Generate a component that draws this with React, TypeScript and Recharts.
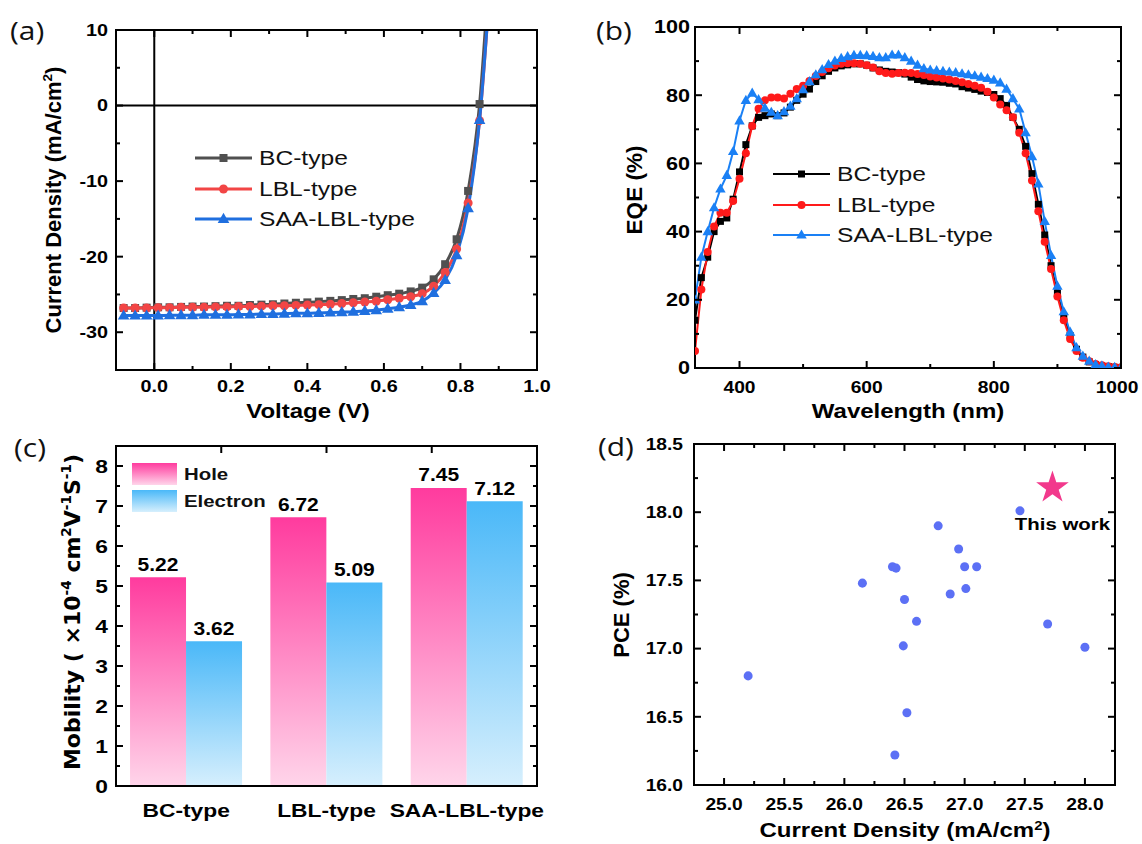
import React from "react";
import {
  LineChart, Line, BarChart, Bar, ScatterChart, Scatter, XAxis, YAxis, Symbols,
  ReferenceLine, LabelList, Legend,
} from "recharts";

const AR = '"Liberation Sans", Arial, sans-serif';
const DV = '"DejaVu Sans", Verdana, sans-serif';
const SX = 1.2; // the source figure is stretched horizontally

// ---------- (a) J-V curves ----------
const voltage = [-0.08, -0.05, -0.02, 0.01, 0.04, 0.07, 0.1, 0.13, 0.16, 0.19, 0.22, 0.25, 0.28, 0.31, 0.34, 0.37, 0.4,
  0.43, 0.46, 0.49, 0.52, 0.55, 0.58, 0.61, 0.64, 0.67, 0.7, 0.73, 0.76, 0.79, 0.82, 0.85, 0.88];
const jvBC = [-26.8, -26.8, -26.75, -26.7, -26.7, -26.65, -26.6, -26.6, -26.55, -26.5, -26.5, -26.4, -26.35, -26.3, -26.2,
  -26.1, -26.05, -25.95, -25.85, -25.75, -25.6, -25.5, -25.3, -25.1, -24.9, -24.6, -24.1, -23.0, -21.0, -17.7, -11.3, 0.2, 22];
const jvLBL = [-26.8, -26.8, -26.8, -26.75, -26.75, -26.7, -26.7, -26.7, -26.65, -26.65, -26.6, -26.6, -26.55, -26.5, -26.5,
  -26.45, -26.4, -26.35, -26.3, -26.2, -26.1, -26.0, -25.9, -25.7, -25.5, -25.3, -24.9, -23.9, -22.1, -19.0, -12.9, -2.0, 18];
const jvSAA = [-27.8, -27.8, -27.8, -27.8, -27.75, -27.75, -27.75, -27.7, -27.7, -27.7, -27.65, -27.65, -27.6, -27.6, -27.55,
  -27.5, -27.5, -27.45, -27.4, -27.35, -27.3, -27.2, -27.1, -26.9, -26.7, -26.4, -25.9, -24.8, -23.1, -19.8, -13.6, -1.9, 18];
const jvMajorX = [0, 0.2, 0.4, 0.6, 0.8, 1.0];
const jvMinorX = [0.1, 0.3, 0.5, 0.7, 0.9];
const jvMajorY = [-30, -20, -10, 0, 10];
const jvMinorY = [-25, -15, -5, 5];

// ---------- (b) EQE ----------
const wavelength = [330, 340, 350, 360, 370, 380, 390, 400, 410, 420, 430, 440, 450, 460, 470, 480, 490, 500, 510, 520,
  530, 540, 550, 560, 570, 580, 590, 600, 610, 620, 630, 640, 650, 660, 670, 680, 690, 700, 710, 720, 730, 740, 750, 760,
  770, 780, 790, 800, 810, 820, 830, 840, 850, 860, 870, 880, 890, 900, 910, 920, 930, 940, 950, 960, 970, 980, 990, 1000];
const eqeBC = [14, 26.5, 32.5, 40, 43, 44, 49.5, 57.5, 65.5, 71, 73.5, 74, 74.5, 74, 74.8, 76.5, 78.5, 80.3, 81.8, 84,
  85.7, 87, 88, 88.6, 88.9, 89.2, 89.2, 88.8, 88, 87.4, 87, 86.8, 86.6, 86.2, 85.3, 84.6, 84.2, 84, 83.9, 83.8, 83.5, 83.3,
  82.5, 82.1, 81.7, 81.2, 80.8, 80.2, 79, 77, 73.5, 70, 65, 57, 48, 39, 30, 22, 15, 9.5, 5.5, 3.2, 1.8, 1, 0.6, 0.4, 0.2, 0.1];
const eqeLBL = [5, 23, 34, 41.5, 45.5, 45.5, 49, 55.5, 63, 71, 76, 78.5, 79.3, 79.3, 79, 80.4, 81.8, 82.8, 84.2, 85.6,
  86.8, 87.9, 88.7, 89.2, 89.4, 89.4, 89.2, 88.8, 88.1, 87, 86.5, 86.3, 86.5, 86.6, 86.5, 86.2, 85.9, 85.5, 85.2, 84.9,
  84.6, 84.2, 83.8, 83.3, 82.8, 82.2, 81, 79.3, 77.3, 75.6, 73.5, 69, 63, 55, 46, 37, 29, 21, 14, 8.5, 5, 3, 2, 1.2, 0.8, 0.5, 0.3, 0.2];
const eqeSAA = [20, 32.5, 40, 47, 52.5, 56.5, 63.5, 72.5, 78.5, 80.6, 78.7, 76.2, 75, 74, 75.2, 76.8, 79, 81.6, 84, 86,
  87.5, 89, 90, 90.8, 91.3, 91.7, 91.7, 91.6, 91.4, 91, 91, 91.8, 91.8, 91, 90, 88.8, 87.8, 87.4, 87.2, 87, 86.8, 86.6,
  86.3, 86, 85.7, 85.3, 84.9, 84.4, 83.6, 81.8, 79, 76, 69, 62, 54, 43, 33, 24, 16.5, 10.5, 6, 3.5, 2, 1, 0.6, 0.3, 0.2, 0.1];
const eqeMajorX = [400, 600, 800, 1000];
const eqeMinorX = [500, 700, 900];
const eqeMajorY = [0, 20, 40, 60, 80, 100];
const eqeMinorY = [10, 30, 50, 70, 90];

// ---------- (c) mobility ----------
const mobCategories = ["BC-type", "LBL-type", "SAA-LBL-type"];
const holeMobility = [5.22, 6.72, 7.45];
const electronMobility = [3.62, 5.09, 7.12];
const mobMajorY = [0, 1, 2, 3, 4, 5, 6, 7, 8];
const mobMinorY = [0.5, 1.5, 2.5, 3.5, 4.5, 5.5, 6.5, 7.5];

// ---------- (d) PCE vs Jsc ----------
const litJsc = [25.2, 26.15, 26.4, 26.43, 26.5, 26.6, 26.49, 26.52, 26.42, 26.78, 26.95, 27.0, 27.1, 26.88, 27.01, 27.46, 27.69, 28.0];
const litPce = [16.8, 17.48, 17.6, 17.59, 17.36, 17.2, 17.02, 16.53, 16.22, 17.9, 17.73, 17.6, 17.6, 17.4, 17.44, 18.01, 17.18, 17.01];
const workJsc = [27.73];
const workPce = [18.18];
const workLabel = ["This work"];
const pceMajorX = [25, 25.5, 26, 26.5, 27, 27.5, 28];
const pceMinorX = [24.75, 25.25, 25.75, 26.25, 26.75, 27.25, 27.75, 28.25];
const pceMajorY = [16, 16.5, 17, 17.5, 18, 18.5];
const pceMinorY = [16.25, 16.75, 17.25, 17.75, 18.25];

type Shape = "square" | "circle" | "triangle";
type Side = "bottom" | "top" | "left" | "right";

function markerShape(shape: Shape, cx: number, cy: number, s: number, color: string, key?: any) {
  if (shape === "square") return <rect key={key} x={cx - s / 2} y={cy - s / 2} width={s} height={s} fill={color} />;
  if (shape === "circle") return <circle key={key} cx={cx} cy={cy} r={s / 2} fill={color} />;
  return (
    <polygon key={key} fill={color}
      points={`${cx},${cy - s * 0.62} ${cx - s * 0.58},${cy + s * 0.4} ${cx + s * 0.58},${cy + s * 0.4}`} />
  );
}

const dotOf = (shape: Shape, size: number, color: string) => (p: any) => {
  if (p.cx == null || p.cy == null) return <g key={p.index} />;
  return markerShape(shape, p.cx, p.cy, size, color, p.index);
};

interface TickCfg {
  side: Side; major: number[]; fmt?: (v: any) => string; size?: number; gap?: number; noLine?: boolean;
  nudge?: (v: any) => number;
}

const tickOf = (cfg: TickCfg) => (p: any) => {
  const { x, y, payload } = p;
  const v = payload.value;
  const major = typeof v !== "number" || cfg.major.some((m) => Math.abs(m - v) < 1e-6);
  const len = major ? 7 : 4;
  let x2 = x;
  let y2 = y;
  if (cfg.side === "bottom") y2 = y - len;
  if (cfg.side === "top") y2 = y + len;
  if (cfg.side === "left") x2 = x + len;
  if (cfg.side === "right") x2 = x - len;
  const gap = cfg.gap ?? 16;
  const tx = (cfg.side === "left" ? x - gap : x) + (cfg.nudge ? cfg.nudge(v) : 0);
  const ty = cfg.side === "bottom" ? y + gap : y;
  return (
    <g>
      {!cfg.noLine && <line x1={x} y1={y} x2={x2} y2={y2} stroke="#000" strokeWidth={2} />}
      {major && cfg.fmt && (
        <text transform={`translate(${tx},${ty}) scale(${SX},1)`} textAnchor={cfg.side === "left" ? "end" : "middle"}
          dy="0.36em" fontFamily={AR} fontWeight="bold" fontSize={cfg.size ?? 17} fill="#000">
          {cfg.fmt(v)}
        </text>
      )}
    </g>
  );
};

const frame = { stroke: "#000", strokeWidth: 2, strokeLinecap: "square" as const };
const axisBase = { tickLine: false, tickSize: 0, tickMargin: 0, interval: 0 as const, axisLine: frame };

// plot box -> chart margin, axes are 1px thick so they still render
const boxMargin = (w: number, h: number, l: number, t: number, r: number, b: number) =>
  ({ left: l - 1, top: t - 1, right: w - r - 1, bottom: h - b - 1 });

const lineLegend = (items: { name: string; color: string; shape: Shape; w: number; s: number }[]) => () => (
  <div>
    {items.map((it) => (
      <div key={it.name} style={{ display: "flex", alignItems: "center", height: 30.5 }}>
        <svg width={57} height={20} style={{ overflow: "visible" }}>
          <line x1={0} x2={57} y1={10} y2={10} stroke={it.color} strokeWidth={it.w} />
          {markerShape(it.shape, 28.5, 10, it.s, it.color)}
        </svg>
        <span style={{ marginLeft: 7, fontFamily: AR, fontSize: 20.5, color: "#111", display: "inline-block",
          transform: `scaleX(${SX})`, transformOrigin: "left center", whiteSpace: "nowrap", lineHeight: 1 }}>
          {it.name}
        </span>
      </div>
    ))}
  </div>
);

const jvSeries = [
  { key: "bc", name: "BC-type", color: "#505050", shape: "square" as Shape, w: 3, s: 8 },
  { key: "lbl", name: "LBL-type", color: "#f24545", shape: "circle" as Shape, w: 3, s: 9 },
  { key: "saa", name: "SAA-LBL-type", color: "#1f6fdf", shape: "triangle" as Shape, w: 3, s: 10 },
];
const eqeSeries = [
  { key: "bc", name: "BC-type", color: "#000000", shape: "square" as Shape, w: 2, s: 7 },
  { key: "lbl", name: "LBL-type", color: "#ff1a1a", shape: "circle" as Shape, w: 2, s: 8 },
  { key: "saa", name: "SAA-LBL-type", color: "#1a80f5", shape: "triangle" as Shape, w: 2, s: 9 },
];

function Title({ x, y, children, size = 20, vertical = false, family = AR }: any) {
  return (
    <div style={{ position: "absolute", left: x, top: y, whiteSpace: "nowrap", fontFamily: family, fontWeight: "bold",
      fontSize: size, lineHeight: 1, color: "#000",
      transform: vertical ? "translate(-50%,-50%) rotate(-90deg)" : `translate(-50%,-50%) scaleX(${SX})` }}>
      {children}
    </div>
  );
}

function PanelTag({ x, y, text }: { x: number; y: number; text: string }) {
  return (
    <div style={{ position: "absolute", left: x, top: y, fontFamily: '"Open Sans", sans-serif', fontSize: 26,
      lineHeight: 1, color: "#111", transform: "translateY(-50%) scaleX(1.15)", transformOrigin: "left center" }}>
      {text}
    </div>
  );
}

const sup = (t: string) => <sup style={{ fontSize: "0.62em" }}>{t}</sup>;

export default function App() {
  const jvData = voltage.map((v, i) => ({ v, bc: jvBC[i], lbl: jvLBL[i], saa: jvSAA[i] }));
  const eqeData = wavelength.map((w, i) => ({ w, bc: eqeBC[i], lbl: eqeLBL[i], saa: eqeSAA[i] }));
  const mobData = mobCategories.map((name, i) => ({ name, hole: holeMobility[i], electron: electronMobility[i] }));
  const litData = litJsc.map((x, i) => ({ x, y: litPce[i] }));
  const workData = workJsc.map((x, i) => ({ x, y: workPce[i], label: workLabel[i] }));

  return (
    <div style={{ position: "absolute", left: 0, top: 0, width: 1142, height: 844, background: "#fff", overflow: "hidden" }}>
      {/* (a) */}
      <div style={{ position: "absolute", left: 0, top: 0 }}>
        <LineChart width={570} height={420} data={jvData} margin={boxMargin(570, 420, 116, 30, 537, 370)}>
          <XAxis xAxisId="b" dataKey="v" type="number" domain={[-0.1, 1.0]} allowDataOverflow height={1} {...axisBase}
            ticks={[...jvMajorX, ...jvMinorX]} tick={tickOf({ side: "bottom", major: jvMajorX, fmt: (v) => v.toFixed(1), size: 16.5, gap: 16 })} />
          <XAxis xAxisId="t" orientation="top" dataKey="v" type="number" domain={[-0.1, 1.0]} allowDataOverflow height={1} {...axisBase}
            ticks={[...jvMajorX, ...jvMinorX]} tick={tickOf({ side: "top", major: jvMajorX })} />
          <YAxis yAxisId="l" type="number" domain={[-35, 10]} allowDataOverflow width={1} {...axisBase}
            ticks={[...jvMajorY, ...jvMinorY]} tick={tickOf({ side: "left", major: jvMajorY, fmt: (v) => String(v), size: 16.5, gap: 8 })} />
          <YAxis yAxisId="r" orientation="right" type="number" domain={[-35, 10]} allowDataOverflow width={1} {...axisBase}
            ticks={[...jvMajorY, ...jvMinorY]} tick={tickOf({ side: "right", major: jvMajorY })} />
          <ReferenceLine xAxisId="b" yAxisId="l" x={0} stroke="#000" strokeWidth={2} />
          <ReferenceLine xAxisId="b" yAxisId="l" y={0} stroke="#000" strokeWidth={2} />
          {jvSeries.map((s) => (
            <Line key={s.key} xAxisId="b" yAxisId="l" dataKey={s.key} name={s.name} type="monotone" stroke={s.color}
              strokeWidth={s.w} dot={dotOf(s.shape, s.s, s.color)} activeDot={false} isAnimationActive={false} />
          ))}
          <Legend verticalAlign="middle" align="center" layout="vertical" content={lineLegend(jvSeries)}
            wrapperStyle={{ left: 195, top: 143, width: 260 }} />
        </LineChart>
      </div>

      {/* (b) */}
      <div style={{ position: "absolute", left: 580, top: 0 }}>
        <LineChart width={562} height={420} data={eqeData} margin={boxMargin(562, 420, 115, 27, 541, 368)}>
          <XAxis xAxisId="b" dataKey="w" type="number" domain={[330, 1000]} allowDataOverflow height={1} {...axisBase}
            ticks={[...eqeMajorX, ...eqeMinorX]}
            tick={tickOf({ side: "bottom", major: eqeMajorX, fmt: (v) => String(v), size: 16, gap: 19, nudge: (v) => (v === 1000 ? -4 : 0) })} />
          <XAxis xAxisId="t" orientation="top" dataKey="w" type="number" domain={[330, 1000]} allowDataOverflow height={1} {...axisBase}
            ticks={[...eqeMajorX, ...eqeMinorX]} tick={tickOf({ side: "top", major: eqeMajorX })} />
          <YAxis yAxisId="l" type="number" domain={[0, 100]} allowDataOverflow width={1} {...axisBase}
            ticks={[...eqeMajorY, ...eqeMinorY]} tick={tickOf({ side: "left", major: eqeMajorY, fmt: (v) => String(v), size: 18, gap: 5 })} />
          <YAxis yAxisId="r" orientation="right" type="number" domain={[0, 100]} allowDataOverflow width={1} {...axisBase}
            ticks={[...eqeMajorY, ...eqeMinorY]} tick={tickOf({ side: "right", major: eqeMajorY })} />
          {eqeSeries.map((s) => (
            <Line key={s.key} xAxisId="b" yAxisId="l" dataKey={s.key} name={s.name} type="linear" stroke={s.color}
              strokeWidth={s.w} dot={dotOf(s.shape, s.s, s.color)} activeDot={false} isAnimationActive={false} />
          ))}
          <Legend verticalAlign="middle" align="center" layout="vertical" content={lineLegend(eqeSeries)}
            wrapperStyle={{ left: 193, top: 159, width: 260 }} />
        </LineChart>
      </div>

      {/* (c) */}
      <div style={{ position: "absolute", left: 0, top: 420 }}>
        <BarChart width={570} height={424} data={mobData} margin={boxMargin(570, 424, 116, 26, 537, 366)}
          barCategoryGap="10%" barGap={0}>
          <defs>
            <linearGradient id="holeGrad" x1="0" y1="0" x2="0" y2="1">
              <stop offset="0%" stopColor="#ff3b9e" />
              <stop offset="100%" stopColor="#ffd5ea" />
            </linearGradient>
            <linearGradient id="elecGrad" x1="0" y1="0" x2="0" y2="1">
              <stop offset="0%" stopColor="#4ab8f8" />
              <stop offset="100%" stopColor="#d6effd" />
            </linearGradient>
          </defs>
          <XAxis xAxisId="b" dataKey="name" type="category" height={1} {...axisBase}
            tick={tickOf({ side: "bottom", major: [], fmt: (v) => String(v), size: 19, gap: 24, noLine: true })} />
          <XAxis xAxisId="t" orientation="top" type="number" domain={[0, 3]} allowDataOverflow height={1} {...axisBase}
            ticks={[0.5, 1, 1.5, 2, 2.5]} tick={tickOf({ side: "top", major: [0.5, 1, 1.5, 2, 2.5] })} />
          <YAxis yAxisId="l" type="number" domain={[0, 8.5]} allowDataOverflow width={1} {...axisBase}
            ticks={[...mobMajorY, ...mobMinorY]} tick={tickOf({ side: "left", major: mobMajorY, fmt: (v) => String(v), size: 19, gap: 8 })} />
          <YAxis yAxisId="r" orientation="right" type="number" domain={[0, 8.5]} allowDataOverflow width={1} {...axisBase}
            ticks={[...mobMajorY, ...mobMinorY]} tick={tickOf({ side: "right", major: mobMajorY })} />
          <Bar xAxisId="b" yAxisId="l" dataKey="hole" name="Hole" fill="url(#holeGrad)" isAnimationActive={false}>
            <LabelList dataKey="hole" content={barLabel} />
          </Bar>
          <Bar xAxisId="b" yAxisId="l" dataKey="electron" name="Electron" fill="url(#elecGrad)" isAnimationActive={false}>
            <LabelList dataKey="electron" content={barLabel} />
          </Bar>
          <Legend verticalAlign="middle" align="center" layout="vertical" content={barLegend}
            wrapperStyle={{ left: 132, top: 43, width: 200 }} />
        </BarChart>
      </div>

      {/* (d) */}
      <div style={{ position: "absolute", left: 580, top: 420 }}>
        <ScatterChart width={562} height={424} margin={boxMargin(562, 424, 114, 24, 535, 365)}>
          <XAxis xAxisId="b" dataKey="x" type="number" domain={[24.75, 28.25]} allowDataOverflow height={1} {...axisBase}
            ticks={[...pceMajorX, ...pceMinorX]} tick={tickOf({ side: "bottom", major: pceMajorX, fmt: (v) => v.toFixed(1), size: 16, gap: 19 })} />
          <XAxis xAxisId="t" orientation="top" dataKey="x" type="number" domain={[24.75, 28.25]} allowDataOverflow height={1} {...axisBase}
            ticks={[...pceMajorX, ...pceMinorX]} tick={tickOf({ side: "top", major: pceMajorX })} />
          <YAxis yAxisId="l" dataKey="y" type="number" domain={[16, 18.5]} allowDataOverflow width={1} {...axisBase}
            ticks={[...pceMajorY, ...pceMinorY]} tick={tickOf({ side: "left", major: pceMajorY, fmt: (v) => v.toFixed(1), size: 16, gap: 11 })} />
          <YAxis yAxisId="r" orientation="right" dataKey="y" type="number" domain={[16, 18.5]} allowDataOverflow width={1} {...axisBase}
            ticks={[...pceMajorY, ...pceMinorY]} tick={tickOf({ side: "right", major: pceMajorY })} />
          <Scatter xAxisId="b" yAxisId="l" data={litData} fill="#5c70f5" shape="circle" isAnimationActive={false} />
          <Scatter xAxisId="b" yAxisId="l" data={workData} fill="#f2398c" isAnimationActive={false}
            shape={(p: any) => <Symbols cx={p.cx} cy={p.cy} type="star" size={330} fill="#f2398c" />}>
            <LabelList dataKey="label" content={workLabelContent} />
          </Scatter>
        </ScatterChart>
      </div>

      <PanelTag x={10} y={30} text="(a)" />
      <PanelTag x={596} y={30} text="(b)" />
      <PanelTag x={14} y={447} text="(c)" />
      <PanelTag x={598} y={446} text="(d)" />

      <Title x={308} y={411} size={20}>Voltage (V)</Title>
      <Title x={908} y={411} size={20}>Wavelength (nm)</Title>
      <Title x={905} y={830} size={20}>Current Density (mA/cm{sup("2")})</Title>
      <Title x={53} y={200} size={22} vertical>Current Density (mA/cm{sup("2")})</Title>
      <Title x={635} y={190} size={22.5} vertical>EQE (%)</Title>
      <Title x={72} y={612} size={22} vertical family={DV}>
        Mobility ( ×10{sup("-4")} cm{sup("2")}V{sup("-1")}S{sup("-1")})
      </Title>
      <Title x={622} y={615} size={22} vertical>PCE (%)</Title>
    </div>
  );
}

function barLabel(p: any) {
  const cx = p.x + p.width / 2;
  return (
    <text transform={`translate(${cx},${p.y - 13}) scale(${SX},1)`} textAnchor="middle" dy="0.36em"
      fontFamily={AR} fontWeight="bold" fontSize={17.5} fill="#000">
      {Number(p.value).toFixed(2)}
    </text>
  );
}

function workLabelContent(p: any) {
  const cx = p.x + p.width / 2;
  const cy = p.y + p.height / 2;
  return (
    <text transform={`translate(${cx + 10},${cy + 36}) scale(${SX},1)`} textAnchor="middle" dy="0.36em"
      fontFamily={AR} fontWeight="bold" fontSize={17} fill="#000">
      {p.value}
    </text>
  );
}

function barLegend() {
  const rows = [
    { name: "Hole", top: "#ff3b9e", bottom: "#ffd5ea" },
    { name: "Electron", top: "#4ab8f8", bottom: "#d6effd" },
  ];
  return (
    <div>
      {rows.map((r, i) => (
        <div key={r.name} style={{ display: "flex", alignItems: "center", height: 22, marginBottom: i === 0 ? 5 : 0 }}>
          <svg width={45} height={22}>
            <defs>
              <linearGradient id={`lg${i}`} x1="0" y1="0" x2="0" y2="1">
                <stop offset="0%" stopColor={r.top} />
                <stop offset="100%" stopColor={r.bottom} />
              </linearGradient>
            </defs>
            <rect x={0} y={0} width={45} height={22} fill={`url(#lg${i})`} />
          </svg>
          <span style={{ marginLeft: 7, fontFamily: AR, fontWeight: "bold", fontSize: 17, color: "#111", display: "inline-block",
            transform: `scaleX(${SX})`, transformOrigin: "left center", whiteSpace: "nowrap", lineHeight: 1 }}>
            {r.name}
          </span>
        </div>
      ))}
    </div>
  );
}
